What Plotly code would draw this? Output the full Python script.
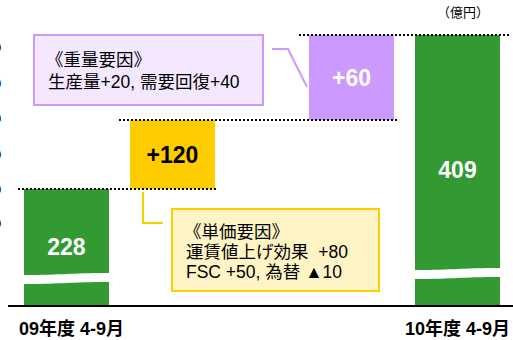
import plotly.graph_objects as go

# ---- data ----
step_names = ["09年度 4-9月", "単価要因", "重量要因", "10年度 4-9月"]
step_values = [228, 120, 60, 409]
step_labels = ["228", "+120", "+60", "409"]
# schematic bar extents read from the (broken, not-to-scale) picture, chart units
bar_base = [0, 116, 185, 0]
bar_top = [116, 185, 270, 270]
x_ticklabels = ["09年度 4-9月", "10年度 4-9月"]
weight_title = "《重量要因》"
weight_detail = "生産量+20, 需要回復+40"
price_title = "《単価要因》"
price_detail1 = "運賃値上げ効果  +80"
price_detail2 = "FSC +50, 為替 ▲10"
unit_label = "（億円）"
hidden_tick_text = ["0", "0", "0", "0", "0", "0"]

# ---- layout constants ----
W, H = 513, 340
ML, MR, MT, MB = 8, 0, 0, 35
XR = [-0.552, 4.212]
YR = [0, 305]
slots = [0, 1, 2.69, 3.69]
bw = 0.80
GREEN, YELLOW, PURPLE = "#339933", "#FFCC00", "#CC99FF"
FONT = "Liberation Sans, Arial, Noto Sans CJK JP"

pw = W - ML - MR
ph = H - MT - MB


def xpx(px):
    return XR[0] + (px - ML) / pw * (XR[1] - XR[0])


def ypx(py):
    return YR[0] + (MT + ph - py) / ph * (YR[1] - YR[0])


colors = [GREEN, YELLOW, PURPLE, GREEN]
text_colors = ["white", "black", "white", "white"]

fig = go.Figure()
fig.add_trace(go.Bar(
    x=slots,
    y=[t - b for t, b in zip(bar_top, bar_base)],
    base=bar_base,
    width=bw,
    marker=dict(color=colors, line=dict(width=0)),
    text=["<b>%s</b>" % s for s in step_labels],
    textposition="inside",
    insidetextanchor="middle",
    textangle=0,
    constraintext="none",
    textfont=dict(family=FONT, size=23, color=text_colors),
    hoverinfo="skip",
    showlegend=False,
))

shapes = []
# dotted connector lines
for (px0, px1, py) in [(18, 218, 189), (119, 398, 120), (299, 510, 35)]:
    shapes.append(dict(type="line", xref="x", yref="y",
                       x0=xpx(px0), x1=xpx(px1), y0=ypx(py), y1=ypx(py),
                       line=dict(color="black", width=2, dash="2px,2px"), layer="above"))

# bar breaks (white wavy bands on the green bars)
for i, yc in [(0, ypx(278.5)), (3, ypx(273.5))]:
    xl = slots[i] - bw / 2 - 0.01
    xr = slots[i] + bw / 2 + 0.01
    xm = slots[i]
    g = 4.5
    d = ("M %f,%f C %f,%f %f,%f %f,%f L %f,%f C %f,%f %f,%f %f,%f Z" % (
        xl, yc + g - 1, xm, yc + g - 1, xm, yc + g + 1, xr, yc + g + 1,
        xr, yc - g + 1, xm, yc - g + 1, xm, yc - g - 1, xl, yc - g - 1))
    shapes.append(dict(type="path", xref="x", yref="y", path=d,
                       fillcolor="white", line=dict(width=0), layer="above"))

# callout boxes
shapes.append(dict(type="rect", xref="x", yref="y",
                   x0=xpx(34), x1=xpx(263), y0=ypx(105), y1=ypx(35),
                   fillcolor="#F3E8FF", line=dict(color=PURPLE, width=2), layer="above"))
shapes.append(dict(type="rect", xref="x", yref="y",
                   x0=xpx(172), x1=xpx(379), y0=ypx(291), y1=ypx(209),
                   fillcolor="#FFF4C6", line=dict(color=YELLOW, width=2), layer="above"))
# callout leader lines
shapes.append(dict(type="path", xref="x", yref="y",
                   path="M %f,%f L %f,%f L %f,%f" % (xpx(272), ypx(49), xpx(288), ypx(49), xpx(307), ypx(87)),
                   line=dict(color=PURPLE, width=2), layer="above"))
shapes.append(dict(type="path", xref="x", yref="y",
                   path="M %f,%f L %f,%f L %f,%f" % (xpx(143), ypx(192), xpx(143), ypx(223), xpx(163), ypx(223)),
                   line=dict(color=YELLOW, width=2), layer="above"))

ann = []
tf = dict(family=FONT, size=17.5, color="black")
for txt, px, py in [(weight_title, 44, 60), (weight_detail, 46, 82),
                    (price_title, 182, 232), (price_detail1, 184, 252), (price_detail2, 184, 272)]:
    ann.append(dict(text=txt, xref="x", yref="y", x=xpx(px), y=ypx(py),
                    xanchor="left", yanchor="middle", showarrow=False, font=tf))

ann.append(dict(text=unit_label, xref="x", yref="y", x=xpx(463), y=ypx(12),
                xanchor="center", yanchor="middle", showarrow=False,
                font=dict(family=FONT, size=13, color="black")))

for txt, s, shift in zip(x_ticklabels, [slots[0], slots[3]], [5, 0]):
    ann.append(dict(text="<b>%s</b>" % txt, xref="x", yref="paper", x=s, y=0,
                    xshift=shift, yshift=-23, xanchor="center", yanchor="middle",
                    showarrow=False, font=dict(family=FONT, size=18, color="black")))

# clipped tick-label remnants at the left edge
for txt, py in zip(hidden_tick_text, [47, 83, 118, 154, 189, 223]):
    ann.append(dict(text=txt, xref="paper", yref="y", x=(3 - ML) / pw, y=ypx(py),
                    xanchor="right", yanchor="middle", showarrow=False,
                    font=dict(family=FONT, size=13, color="black")))

fig.update_layout(
    width=W, height=H,
    margin=dict(l=ML, r=MR, t=MT, b=MB, pad=0),
    paper_bgcolor="white", plot_bgcolor="white",
    xaxis=dict(range=XR, showgrid=False, zeroline=False, showticklabels=False,
               showline=True, linecolor="black", linewidth=2, fixedrange=True),
    yaxis=dict(range=YR, showgrid=False, zeroline=False, showticklabels=False,
               showline=False, fixedrange=True),
    shapes=shapes,
    annotations=ann,
    bargap=0,
)

fig.write_html("out.html")
